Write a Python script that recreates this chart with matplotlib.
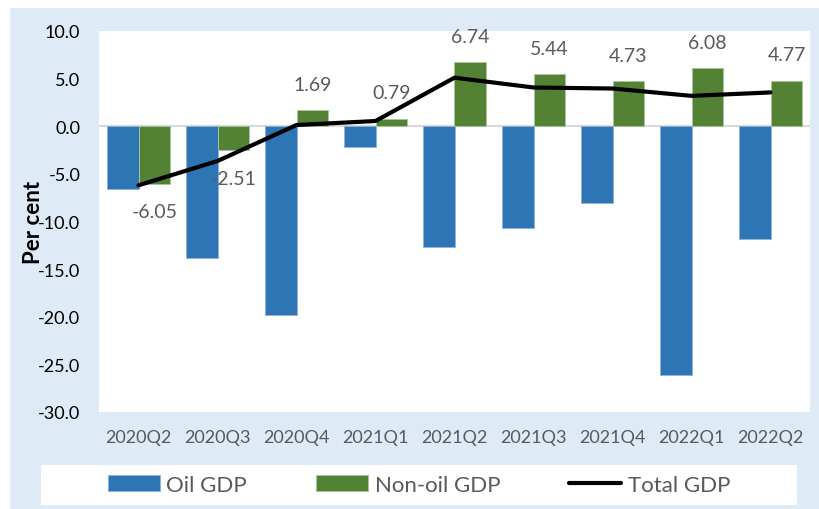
import numpy as np
import matplotlib
matplotlib.use("Agg")
import matplotlib.pyplot as plt
from matplotlib.patches import Rectangle

plt.rcParams['font.family'] = ['Lato', 'DejaVu Sans']

quarters = ["2020Q2", "2020Q3", "2020Q4", "2021Q1", "2021Q2",
            "2021Q3", "2021Q4", "2022Q1", "2022Q2"]
oil_gdp = [-6.6, -13.85, -19.85, -2.2, -12.7, -10.7, -8.05, -26.1, -11.8]
non_oil_gdp = [-6.05, -2.51, 1.69, 0.79, 6.74, 5.44, 4.73, 6.08, 4.77]
total_gdp = [-6.2, -3.65, 0.13, 0.55, 5.1, 4.07, 3.96, 3.19, 3.55]

W, H = 819, 510
fig = plt.figure(figsize=(W / 100, H / 100), dpi=100)
fig.patch.set_facecolor("white")

# light blue panel behind everything
fig.patches.append(Rectangle((10 / W, 0), 809 / W, (H - 9) / H,
                             transform=fig.transFigure, facecolor="#DEEAF6",
                             edgecolor="none", zorder=0))
# white legend box
fig.patches.append(Rectangle((41 / W, 1 - 506 / H), 756 / W, 40 / H,
                             transform=fig.transFigure, facecolor="white",
                             edgecolor="none", zorder=1))

ax = fig.add_axes([99 / W, 1 - 413 / H, 711 / W, 381 / H])
ax.set_zorder(2)
ax.set_facecolor("white")

x = np.arange(len(quarters))
bw = 0.405
b1 = ax.bar(x - bw / 2, oil_gdp, bw, color="#2E75B6", edgecolor="#8DB3DC",
            linewidth=0.7, label="Oil GDP", zorder=2)
b2 = ax.bar(x + bw / 2, non_oil_gdp, bw, color="#548235", edgecolor="#A7C598",
            linewidth=0.7, label="Non-oil GDP", zorder=2)
ax.axhline(0, color="#D9D9D9", lw=1.5, zorder=1)
ln, = ax.plot(x, total_gdp, color="black", lw=3, label="Total GDP", zorder=3,
              solid_capstyle="round")

for xi, v in zip(x, non_oil_gdp):
    off = 26 if v > 0 else -28
    ax.annotate(f"{v:.2f}", (xi + bw / 2, v), xytext=(0, off),
                textcoords="offset pixels", ha="center", va="center",
                fontsize=14, color="#595959", zorder=4)

ax.set_xlim(-0.5, len(quarters) - 0.5)
ax.set_ylim(-30, 10)
ax.set_yticks(np.arange(-30, 10.1, 5))
ax.set_yticklabels([f"{t:.1f}" for t in np.arange(-30, 10.1, 5)])
ax.set_xticks(x)
ax.set_xticklabels(quarters)
ax.tick_params(axis="y", length=0, pad=13.5, labelsize=13, labelcolor="black")
ax.tick_params(axis="x", length=0, pad=12, labelsize=13, labelcolor="#595959")
for s in ax.spines.values():
    s.set_visible(False)

ax.set_ylabel("Per cent", fontsize=16, fontweight="bold", color="black")
ax.yaxis.set_label_coords(-0.077, 0.5)

leg = fig.legend(handles=[b1, b2, ln], loc="center",
                 bbox_to_anchor=(419 / W, 1 - 486 / H), ncol=3, frameon=False,
                 fontsize=16, handlelength=2.35, handletextpad=0.3,
                 columnspacing=3.1, labelcolor="#595959")
leg.set_zorder(5)

fig.savefig("out.png", dpi=100)
